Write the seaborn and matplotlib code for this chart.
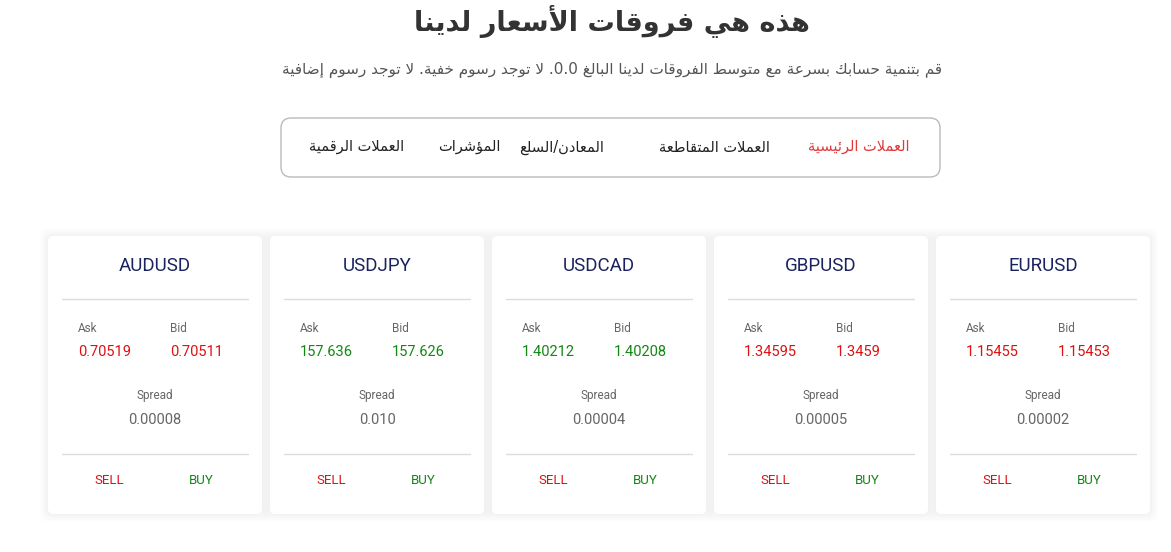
import matplotlib
matplotlib.use("Agg")
import matplotlib.pyplot as plt
import seaborn as sns
from matplotlib.patches import FancyBboxPatch

# ---------------- data ----------------
pairs = ["AUDUSD", "USDJPY", "USDCAD", "GBPUSD", "EURUSD"]
asks = ["0.70519", "157.636", "1.40212", "1.34595", "1.15455"]
bids = ["0.70511", "157.626", "1.40208", "1.3459", "1.15453"]
spreads = ["0.00008", "0.010", "0.00004", "0.00005", "0.00002"]
price_up = [False, True, True, False, False]
tabs = ["العملات الرئيسية", "العملات المتقاطعة", "المعادن/السلع", "المؤشرات", "العملات الرقمية"]
title = "هذه هي فروقات الأسعار لدينا"
subtitle = "قم بتنمية حسابك بسرعة مع متوسط الفروقات لدينا البالغ 0.0. لا توجد رسوم خفية. لا توجد رسوم إضافية"

# ---------------- minimal Arabic shaping ----------------
counts = [(0x621, 1)] + [(c, 2) for c in range(0x622, 0x626)] + [(0x626, 4), (0x627, 2), (0x628, 4), (0x629, 2)] \
    + [(c, 4) for c in range(0x62A, 0x62F)] + [(c, 2) for c in range(0x62F, 0x633)] \
    + [(c, 4) for c in range(0x633, 0x63B)] + [(c, 4) for c in range(0x641, 0x648)] \
    + [(0x648, 2), (0x649, 2), (0x64A, 4)]
FORMS = {}
p = 0xFE80
for c, n in counts:
    FORMS[chr(c)] = [chr(p + i) for i in range(n)]
    p += n
LAMALEF = {"ا": (0xFEFB, 0xFEFC), "أ": (0xFEF7, 0xFEF8), "إ": (0xFEF9, 0xFEFA), "آ": (0xFEF5, 0xFEF6)}

def dual(ch):
    return ch in FORMS and len(FORMS[ch]) == 4

def shape(s):
    out = []
    i = 0
    n = len(s)
    while i < n:
        ch = s[i]
        prev = s[i - 1] if i > 0 else ""
        jp = dual(prev) and ch in FORMS
        if ch == "ل" and i + 1 < n and s[i + 1] in LAMALEF:
            iso, fin = LAMALEF[s[i + 1]]
            out.append(chr(fin if jp else iso))
            i += 2
            continue
        if ch not in FORMS:
            out.append(ch); i += 1; continue
        f = FORMS[ch]
        nxt = s[i + 1] if i + 1 < n else ""
        jn = dual(ch) and nxt in FORMS
        if len(f) == 1:
            out.append(f[0])
        elif len(f) == 2:
            out.append(f[1] if jp else f[0])
        else:
            out.append(f[3] if (jp and jn) else f[1] if jp else f[2] if jn else f[0])
        i += 1
    return "".join(out)[::-1]

# ---------------- figure ----------------
sns.set_theme(style="white")
plt.rcParams["font.family"] = ["Roboto", "DejaVu Sans"]
fig = plt.figure(figsize=(11.71, 5.52), dpi=100)
ax = fig.add_axes([0, 0, 1, 1])
ax.set_xlim(0, 1171)
ax.set_ylim(552, 0)
ax.axis("off")
fig.patch.set_facecolor("white")

AR = ["DejaVu Sans"]
ax.text(612, 22, shape(title), ha="center", va="center", fontsize=19.5, fontweight="bold", color="#333333", family=AR)
ax.text(612, 70, shape(subtitle), ha="center", va="center", fontsize=11, color="#555555", family=AR)

ax.add_patch(FancyBboxPatch((281, 118), 659, 59, boxstyle="round,pad=0,rounding_size=10",
                            fc="white", ec="#bbbbbb", lw=1))
tab_x = [859, 714, 562, 469, 357]
for t, x, k in zip(tabs, tab_x, range(5)):
    ax.text(x, 147, shape(t), ha="center", va="center", fontsize=10.5, family=AR,
            color="#e03a3a" if k == 0 else "#222222")

red, green, grey = "#e01010", "#118811", "#666666"
for k, (pr, a, b, sp, up) in enumerate(zip(pairs, asks, bids, spreads, price_up)):
    L = 48 + k * 222
    for d, al in [(8, 0.008), (6, 0.01), (4, 0.012), (2, 0.015)]:
        ax.add_patch(FancyBboxPatch((L - d, 236 - d), 214 + 2 * d, 278 + 2 * d,
                                    boxstyle="round,pad=0,rounding_size=8", fc="#000000", ec="none", alpha=al))
    ax.add_patch(FancyBboxPatch((L, 236), 214, 278, boxstyle="round,pad=0,rounding_size=5", fc="white", ec="none"))
    ax.text(L + 107, 266, pr, ha="center", va="center", fontsize=13.5, color="#1a2260")
    ax.plot([L + 14, L + 200], [299, 299], color="#dddddd", lw=1)
    ax.text(L + 30, 328, "Ask", ha="left", va="center", fontsize=8.5, color=grey)
    ax.text(L + 122, 328, "Bid", ha="left", va="center", fontsize=8.5, color=grey)
    c = green if up else red
    ax.text(L + 30, 352, a, ha="left", va="center", fontsize=10.5, color=c)
    ax.text(L + 122, 352, b, ha="left", va="center", fontsize=10.5, color=c)
    ax.text(L + 107, 396, "Spread", ha="center", va="center", fontsize=8.5, color=grey)
    ax.text(L + 107, 420, sp, ha="center", va="center", fontsize=10.5, color=grey)
    ax.plot([L + 14, L + 200], [454, 454], color="#dddddd", lw=1)
    ax.text(L + 61, 480, "SELL", ha="center", va="center", fontsize=9.5, color=red)
    ax.text(L + 153, 480, "BUY", ha="center", va="center", fontsize=9.5, color=green)

fig.savefig("out.png", dpi=100, facecolor="white")
